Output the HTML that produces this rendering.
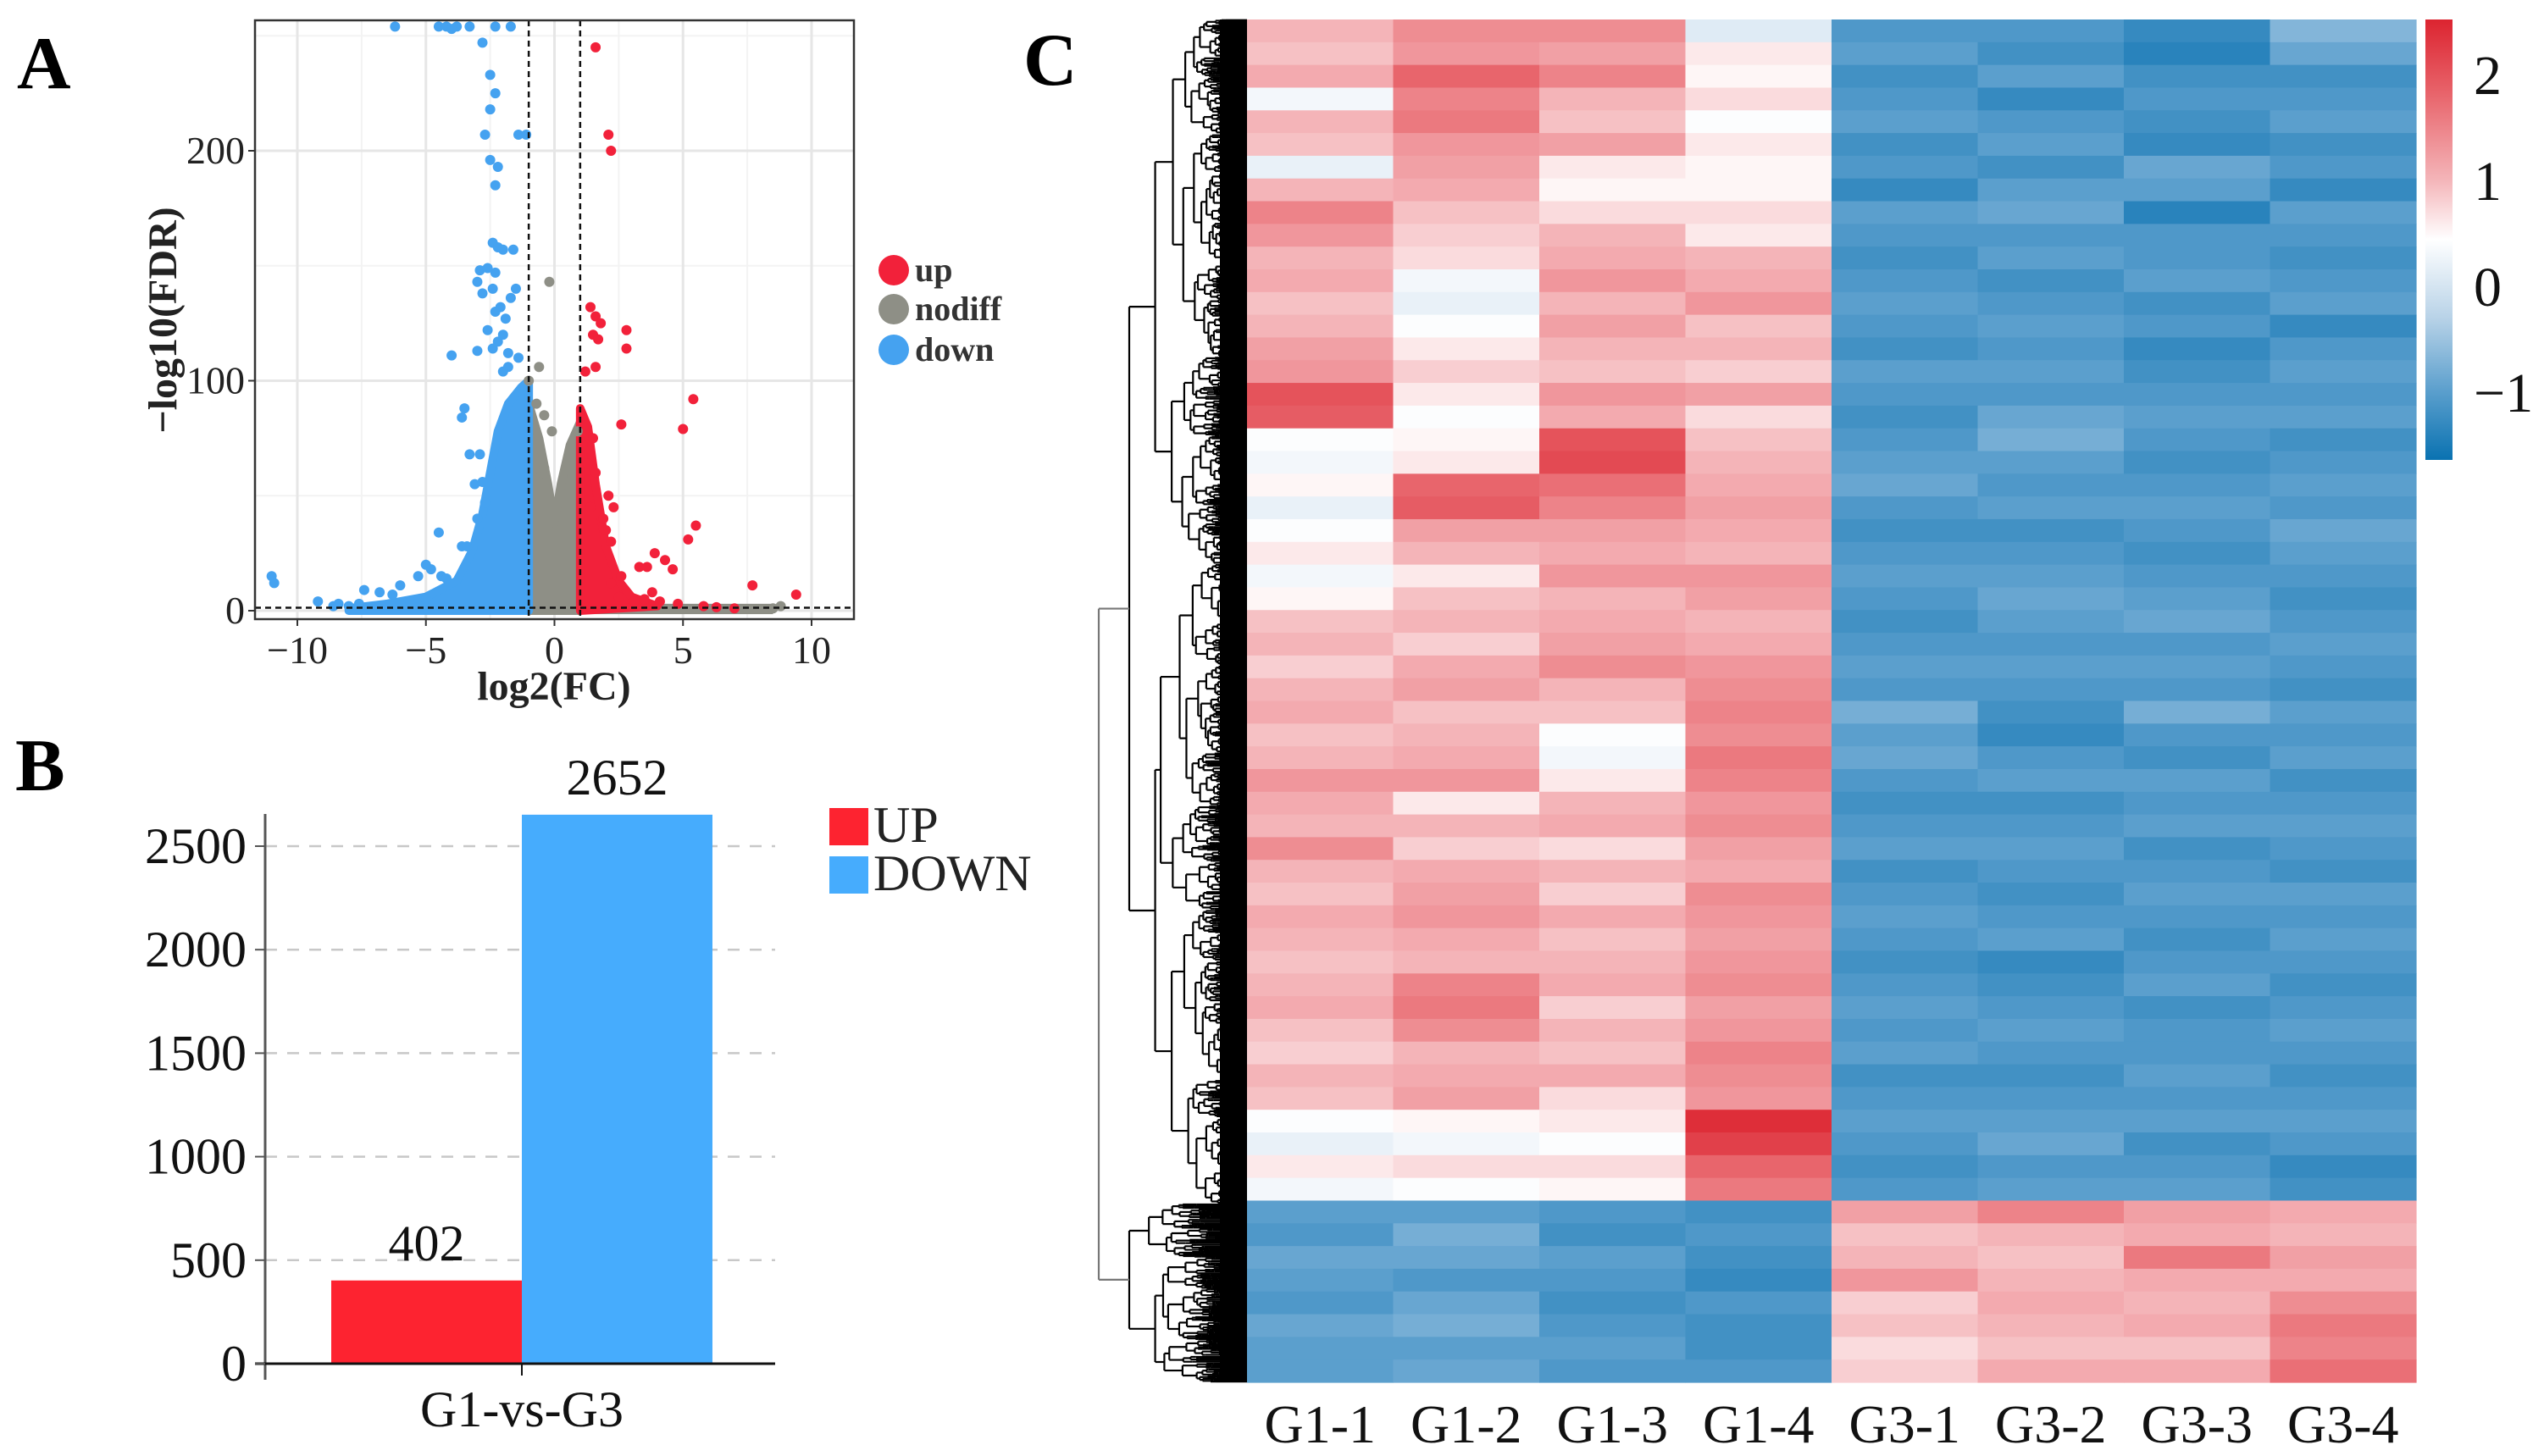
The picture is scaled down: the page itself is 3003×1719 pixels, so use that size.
<!DOCTYPE html>
<html><head><meta charset="utf-8"><style>
html,body{margin:0;padding:0;background:#fff;}
svg{display:block;}
svg text{font-family:"Liberation Serif","Times New Roman",serif;}
</style></head><body>
<svg id="fig" width="3003" height="1719" viewBox="0 0 3003 1719" xmlns="http://www.w3.org/2000/svg" font-family="Liberation Serif, serif">
<g id="pA"></g>
<g id="pB"></g>
<g id="pC"></g>
</svg>
<script>
// ---------- Panel A data ----------
const blueX=[-6.2,-4.5,-4.2,-3.8,-3.3,-2.3,-1.7,-4.0,-2.8,-2.5,-2.3,-2.5,-2.7,-1.4,-1.1,-2.5,-2.2,-2.3,-2.4,-2.2,-2.0,-1.6,-2.9,-2.6,-2.3,-3.0,-2.8,-2.4,-1.5,-1.7,-2.1,-2.3,-1.9,-2.6,-2.0,-2.2,-3.0,-2.4,-1.8,-4.0,-1.4,-1.8,-2.0,-3.5,-3.6,-3.3,-2.9,-3.1,-2.8,-2.7,-3.0,-4.5,-3.6,-3.4,-5.0,-4.8,-4.4,-4.2,-5.3,-6.0,-6.3,-7.4,-6.8,-11.0,-10.9,-9.2,-8.4,-8.6,-8.0,-7.6,-5.6,-5.0];
const blueY=[254,254,254,254,254,254,254,253,247,233,225,218,207,207,207,196,193,185,160,158,157,157,148,149,147,143,138,140,140,136,132,130,127,122,120,117,113,114,112,111,110,106,104,88,84,68,68,55,56,47,40,34,28,28,20,18,15,14,15,11,7,9,8,15,12,4,3,2,2,3,4,5];
const greyX=[-0.2,-0.6,-1.0,-0.7,-0.4,-0.1,0.9,-0.5,-0.4,8.5,8.8];
const greyY=[143,106,100,90,85,78,78,60,62,1,2];
const redX=[1.6,2.1,2.2,1.4,1.6,1.8,2.8,1.5,1.7,2.8,1.6,1.2,5.4,5.0,2.6,1.5,1.1,1.3,1.6,2.1,2.3,5.5,5.2,3.9,4.3,3.3,4.6,3.6,3.8,7.7,9.4,2.5,3.1,3.5,4.1,4.8,5.8,6.3,7.0,1.9,2.0,1.4,2.2,2.6,2.2];
const redY=[245,207,200,132,128,125,122,120,118,114,106,104,92,79,81,75,72,64,60,50,45,37,31,25,22,19,18,19,8,11,7,6,4,5,4,3,2,1.5,1,40,35,45,30,15,12];
// dense-cloud envelopes (log2FC, -log10FDR)
const blueCloudX=[-1,-1,-1.3,-1.8,-2.2,-2.5,-2.8,-3.2,-3.8,-5,-6.5,-8,-8];
const blueCloudY=[0,100,97,90,78,60,42,26,13,6,3,1,0];
const greyCloudX=[-1,-1,-0.6,-0.25,0,0.25,0.6,1,1];
const greyCloudY=[0,90,75,55,38,55,72,82,0];
const redCloudX=[1,1,1.3,1.6,2,2.5,3,4,1];
const redCloudY=[0,88,80,55,28,13,6,2,0];
const xTicksA=[-10,-5,0,5,10];
const yTicksA=[0,100,200];
// ---------- Panel B data ----------
const barCats=["UP","DOWN"];
const barVals=[402,2652];
const yTicksB=[0,500,1000,1500,2000,2500];
// ---------- Panel C data ----------
const samples=["G1-1","G1-2","G1-3","G1-4","G3-1","G3-2","G3-3","G3-4"];
const g11=[1.0,0.9,1.1,0.3,1.0,0.9,0.2,1.0,1.5,1.3, 1.0,1.1,0.9,1.0,1.2,1.3,2.0,1.9,0.4,0.3, 0.5,0.2,0.4,0.6,0.3,0.5,0.9,1.0,0.8,1.0, 1.1,0.9,1.0,1.3,1.1,1.0,1.4,1.0,0.9,1.1, 1.0,0.9,1.0,1.1,0.9,0.8,1.0,0.9,0.4,0.2, 0.6,0.3, -1.0,-1.1,-0.9,-1.0,-1.1,-0.9,-1.0,-1.0];
const g12=[1.4,1.3,1.8,1.5,1.6,1.3,1.2,1.1,0.9,0.8, 0.7,0.3,0.2,0.4,0.6,0.8,0.6,0.4,0.5,0.6, 1.8,1.9,1.2,1.0,0.6,0.9,1.0,0.8,1.1,1.2, 0.9,1.0,1.1,1.3,0.6,1.0,0.8,1.1,1.2,1.3, 1.1,1.0,1.5,1.6,1.4,1.0,1.1,1.2,0.5,0.3, 0.7,0.4, -1.0,-0.8,-0.9,-1.1,-0.9,-0.8,-1.0,-0.9];
const g13=[1.4,1.2,1.5,1.0,0.9,1.2,0.6,0.5,0.7,1.0, 1.1,1.3,1.0,1.2,1.0,0.9,1.3,1.1,2.0,2.1, 1.7,1.5,1.2,1.1,1.3,1.0,1.1,1.2,1.4,1.0, 0.9,0.4,0.3,0.6,1.0,1.1,0.7,1.0,0.8,1.1, 0.9,1.0,1.1,0.8,1.0,0.9,1.1,0.7,0.6,0.4, 0.7,0.5, -1.1,-1.2,-1.0,-1.1,-1.2,-1.1,-1.0,-1.1];
const g14=[0.1,0.6,0.5,0.7,0.4,0.6,0.5,0.5,0.7,0.6, 1.0,1.1,1.3,0.9,1.0,0.8,1.2,0.7,0.9,1.0, 1.1,1.2,1.1,1.0,1.3,1.2,1.0,1.1,1.3,1.4, 1.5,1.4,1.6,1.5,1.3,1.4,1.2,1.1,1.4,1.3, 1.2,1.3,1.4,1.2,1.3,1.5,1.4,1.3,2.4,2.2, 1.8,1.6, -1.2,-1.1,-1.2,-1.3,-1.1,-1.2,-1.2,-1.1];
const g31=[-1.1,-1.0,-1.2,-1.1,-1.0,-1.2,-1.1,-1.3,-1.0,-1.1, -1.2,-1.1,-1.0,-1.1,-1.2,-1.0,-1.1,-1.2,-1.1,-1.0, -0.9,-1.1,-1.2,-1.1,-1.0,-1.1,-1.2,-1.1,-1.0,-1.1, -0.8,-1.0,-0.9,-1.1,-1.2,-1.1,-1.0,-1.2,-1.1,-1.0, -1.1,-1.2,-1.1,-1.0,-1.1,-1.0,-1.2,-1.1,-1.0,-1.1, -1.2,-1.1, 1.2,0.9,1.0,1.3,0.8,0.9,0.7,0.8];
const g32=[-1.1,-1.2,-1.0,-1.3,-1.1,-1.0,-1.2,-1.0,-0.9,-1.1, -1.0,-1.2,-1.1,-1.0,-1.1,-1.0,-1.1,-0.9,-0.8,-1.0, -1.1,-1.0,-1.2,-1.1,-1.0,-0.9,-1.0,-1.1,-1.0,-1.1, -1.2,-1.3,-1.1,-1.0,-1.2,-1.1,-1.0,-1.1,-1.2,-1.1, -1.0,-1.3,-1.2,-1.1,-1.0,-1.1,-1.2,-1.1,-1.0,-0.9, -1.1,-1.0, 1.5,1.0,0.9,1.0,1.1,1.0,0.9,1.1];
const g33=[-1.3,-1.4,-1.2,-1.1,-1.2,-1.3,-0.9,-1.0,-1.4,-1.1, -1.1,-1.0,-1.2,-1.1,-1.3,-1.2,-1.1,-1.0,-1.1,-1.2, -1.1,-1.0,-1.1,-1.2,-1.1,-1.0,-0.9,-1.1,-1.0,-1.1, -0.8,-1.1,-1.2,-1.0,-1.1,-1.0,-1.2,-1.1,-1.0,-1.1, -1.2,-1.1,-1.0,-1.2,-1.1,-1.1,-1.0,-1.1,-1.0,-1.2, -1.1,-1.0, 1.2,1.1,1.6,1.1,1.0,1.1,0.9,1.1];
const g34=[-0.7,-0.9,-1.2,-1.1,-1.0,-1.2,-1.1,-1.3,-1.0,-1.1, -1.2,-1.1,-1.0,-1.3,-1.1,-1.0,-1.1,-1.0,-1.2,-1.1, -1.0,-1.1,-0.9,-1.0,-1.1,-1.2,-1.1,-1.0,-1.1,-1.2, -1.0,-1.1,-1.0,-1.2,-1.1,-1.0,-1.1,-1.2,-1.0,-1.1, -1.0,-1.1,-1.2,-1.1,-1.0,-1.1,-1.2,-1.1,-1.0,-1.1, -1.3,-1.2, 1.1,1.0,1.2,1.1,1.4,1.6,1.5,1.7];
const cbTicks=[2,1,0,-1];

const NS="http://www.w3.org/2000/svg";
function mk(tag,attrs,parent,text){const e=document.createElementNS(NS,tag);for(const k in attrs)e.setAttribute(k,attrs[k]);if(tag==='text')e.setAttribute('font-family','Liberation Serif, serif');if(text!==undefined)e.textContent=text;parent.appendChild(e);return e;}

// ================= Panel A =================
(function(){
const g=document.getElementById('pA');
const L=301,R=1008,T=24,B=731;
const xA=v=>654.5+v*30.35, yA=v=>721-v*2.715;
mk('rect',{x:L,y:T,width:R-L,height:B-T,fill:'#fff'},g);
const grid=mk('g',{},g);

[-7.5,-2.5,2.5,7.5].forEach(v=>mk('line',{x1:xA(v),x2:xA(v),y1:T,y2:B,stroke:'#f3f3f3','stroke-width':2},grid));
[50,150,250].forEach(v=>mk('line',{x1:L,x2:R,y1:yA(v),y2:yA(v),stroke:'#f3f3f3','stroke-width':2},grid));
xTicksA.forEach(v=>mk('line',{x1:xA(v),x2:xA(v),y1:T,y2:B,stroke:'#e6e6e6','stroke-width':3},grid));
yTicksA.forEach(v=>mk('line',{x1:L,x2:R,y1:yA(v),y2:yA(v),stroke:'#e6e6e6','stroke-width':3},grid));
function cloud(xs,ys,col,name){const p=mk('polygon',{points:xs.map((x,i)=>xA(x)+','+yA(ys[i])).join(' '),fill:col,stroke:col,'stroke-width':10,'stroke-linejoin':'round'},g);}
const gb=mk('rect',{x:xA(-8),y:yA(3),width:xA(8.5)-xA(-8),height:yA(-1.5)-yA(3),fill:'#8e8f86'},g);

cloud(greyCloudX,greyCloudY,'#8e8f86','nodiff-cloud');
cloud(blueCloudX,blueCloudY,'#45a2f0','down-cloud');
cloud(redCloudX,redCloudY,'#f2213a','up-cloud');
function pts(xs,ys,col,name){const pg=mk('g',{},g);
 xs.forEach((x,i)=>{const c=mk('circle',{cx:xA(x),cy:yA(Math.min(ys[i],254)),r:6,fill:col},pg);});}
pts(greyX,greyY,'#8e8f86','nodiff-points');
pts(blueX,blueY,'#45a2f0','down-points');
pts(redX,redY,'#f2213a','up-points');
[-1,1].forEach(v=>{const l=mk('line',{x1:xA(v),x2:xA(v),y1:T,y2:B,stroke:'#111','stroke-width':2.5,'stroke-dasharray':'7,5'},g);});
const hl=mk('line',{x1:L,x2:R,y1:yA(1.3),y2:yA(1.3),stroke:'#111','stroke-width':2.5,'stroke-dasharray':'7,5'},g);

const fr=mk('rect',{x:L,y:T,width:R-L,height:B-T,fill:'none',stroke:'#333','stroke-width':2.5},g);

xTicksA.forEach(v=>{mk('line',{x1:xA(v),x2:xA(v),y1:B,y2:B+8,stroke:'#333','stroke-width':2},g);
 const t=mk('text',{x:xA(v),y:B+52,'font-size':46,'text-anchor':'middle',fill:'#222'},g,v<0?'\u2212'+(-v):String(v));});
yTicksA.forEach(v=>{mk('line',{x1:L-8,x2:L,y1:yA(v),y2:yA(v),stroke:'#333','stroke-width':2},g);
 const t=mk('text',{x:L-12,y:yA(v)+15,'font-size':46,'text-anchor':'end',fill:'#222'},g,String(v));});
let t=mk('text',{x:654,y:826,'font-size':48,'font-weight':'bold','text-anchor':'middle',fill:'#222'},g,'log2(FC)');
t=mk('text',{x:0,y:0,'font-size':48,'font-weight':'bold','text-anchor':'middle',fill:'#222',transform:'translate(208,378) rotate(-90)'},g,'\u2212log10(FDR)');
t=mk('text',{x:20,y:104,'font-size':88,'font-weight':'bold',fill:'#000'},g,'A');
const legA=[['up','#f2213a',319],['nodiff','#8e8f86',365],['down','#45a2f0',413]];
legA.forEach(e=>{const lg=mk('g',{},g);
 mk('ellipse',{cx:1055,cy:e[2],rx:18,ry:18,fill:e[1]},lg);
 mk('text',{x:1080,y:e[2]+13,'font-size':40,'font-weight':'bold',fill:'#333'},lg,e[0]);});
})();

// ================= Panel B =================
(function(){
const g=document.getElementById('pB');
const base=1610, ax=313, xr=915;
const yB=v=>base-v*0.2444;
const gr=mk('g',{},g);
yTicksB.slice(1).forEach(v=>mk('line',{x1:ax,x2:xr,y1:yB(v),y2:yB(v),stroke:'#c8c8c8','stroke-width':2.5,'stroke-dasharray':'14,12'},gr));
const cols=['#fd2330','#46acfd'];
const bx=[391,616], bw=225;
barVals.forEach((v,i)=>{const r=mk('rect',{x:bx[i],y:yB(v),width:bw,height:base-yB(v),fill:cols[i]},g);
 const t=mk('text',{x:bx[i]+bw/2,y:yB(v)-24,'font-size':60,'text-anchor':'middle',fill:'#111'},g,String(v));});
let l=mk('line',{x1:ax,x2:ax,y1:961,y2:1629,stroke:'#555','stroke-width':3},g);
l=mk('line',{x1:301,x2:xr,y1:base,y2:base,stroke:'#111','stroke-width':3},g);
mk('line',{x1:616,x2:616,y1:base,y2:base+14,stroke:'#111','stroke-width':2},g);
yTicksB.forEach(v=>{mk('line',{x1:ax-12,x2:ax,y1:yB(v),y2:yB(v),stroke:'#555','stroke-width':2},g);
 const t=mk('text',{x:ax-22,y:yB(v)+20,'font-size':60,'text-anchor':'end',fill:'#111'},g,String(v));});
let t=mk('text',{x:616,y:1684,'font-size':60,'text-anchor':'middle',fill:'#111'},g,'G1-vs-G3');
t=mk('text',{x:18,y:933,'font-size':88,'font-weight':'bold',fill:'#000'},g,'B');
const ly=[954,1011];
barCats.forEach((c,i)=>{const lg=mk('g',{},g);
 mk('rect',{x:979,y:ly[i],width:46,height:44,fill:cols[i]},lg);
 mk('text',{x:1031,y:ly[i]+40,'font-size':60,fill:'#222'},lg,c);});
})();

// ================= Panel C =================
(function(){
const g=document.getElementById('pC');
const HL=1472,HR=2852,HT=23,HB=1632;
const data=[g11,g12,g13,g14,g31,g32,g33,g34];
const stops=[[2.51,[220,36,48]],[1.8,[232,101,108]],[1.0,[244,180,184]],[0.43,[255,255,255]],[-0.3,[185,211,232]],[-1.0,[91,159,205]],[-1.65,[10,114,177]]];
function col(v){if(v>=stops[0][0])return 'rgb('+stops[0][1]+')';for(let i=0;i<stops.length-1;i++){const a=stops[i],b=stops[i+1];if(v<=a[0]&&v>=b[0]){const f=(a[0]-v)/(a[0]-b[0]);return 'rgb('+a[1].map((c,k)=>Math.round(c+(b[1][k]-c)*f)).join(',')+')';}}return 'rgb('+stops[stops.length-1][1]+')';}
const cw=(HR-HL)/samples.length;
const hm=mk('g',{},g);
data.forEach((arr,ci)=>{const rh=(HB-HT)/arr.length;arr.forEach((v,ri)=>{const r=mk('rect',{x:HL+ci*cw,y:HT+ri*rh,width:cw+0.6,height:rh+0.6,fill:col(v)},hm);});});
samples.forEach((s,i)=>{const t=mk('text',{x:HL+(i+0.5)*cw,y:1703,'font-size':64,'text-anchor':'middle',fill:'#111'},g,s);});
// dendrogram
const dg=mk('g',{stroke:'#000','stroke-width':2.2,fill:'none'},g);
const leafX=HL;
let cnt=0;
function node(y0,y1,x,lvl){
 if(y1-y0<2.5||lvl>12){mk('line',{x1:x,x2:leafX,y1:(y0+y1)/2,y2:(y0+y1)/2},dg);return (y0+y1)/2;}
 cnt++;const sp=0.3+0.4*(((cnt*37)%11)/10);
 const ym=y0+(y1-y0)*sp;
 const f1=0.06+0.16*(((cnt*13)%7)/6), f2=0.06+0.16*(((cnt*29)%5)/4);
 const xa=x+(leafX-x)*f1, xb=x+(leafX-x)*f2;
 const ca=node(y0,ym,xa,lvl+1), cb=node(ym,y1,xb,lvl+1);
 mk('line',{x1:x,x2:x,y1:ca,y2:cb},dg);
 mk('line',{x1:x,x2:xa,y1:ca,y2:ca},dg);
 mk('line',{x1:x,x2:xb,y1:cb,y2:cb},dg);
 return (ca+cb)/2;}
mk('rect',{x:1440,y:HT,width:HL-1440,height:HB-HT,fill:'#000',stroke:'none'},dg);
const cu=node(HT,1421,1333,0), cl=node(1421,HB,1333,0);
mk('line',{x1:1297,x2:1297,y1:cu,y2:cl,stroke:'#777'},dg);
mk('line',{x1:1297,x2:1333,y1:cu,y2:cu,stroke:'#777'},dg);
mk('line',{x1:1297,x2:1333,y1:cl,y2:cl,stroke:'#777'},dg);
// colorbar
const defs=mk('defs',{},g);
const lg=mk('linearGradient',{id:'cbg',x1:0,y1:0,x2:0,y2:1},defs);
const cbT=23,cbB=543,y0=337,unit=125;
const cbY=v=>y0-v*unit;
stops.forEach(s=>mk('stop',{offset:((cbY(s[0])-cbT)/(cbB-cbT)).toFixed(3),'stop-color':'rgb('+s[1]+')'},lg));
const cb=mk('rect',{x:2863,y:cbT,width:32,height:cbB-cbT,fill:'url(#cbg)'},g);
cbTicks.forEach(v=>{const t=mk('text',{x:2920,y:cbY(v)+24,'font-size':66,fill:'#111'},g,v<0?'\u2212'+(-v):String(v));});
const t=mk('text',{x:1208,y:100,'font-size':88,'font-weight':'bold',fill:'#000'},g,'C');
})();
</script>
</body></html>
